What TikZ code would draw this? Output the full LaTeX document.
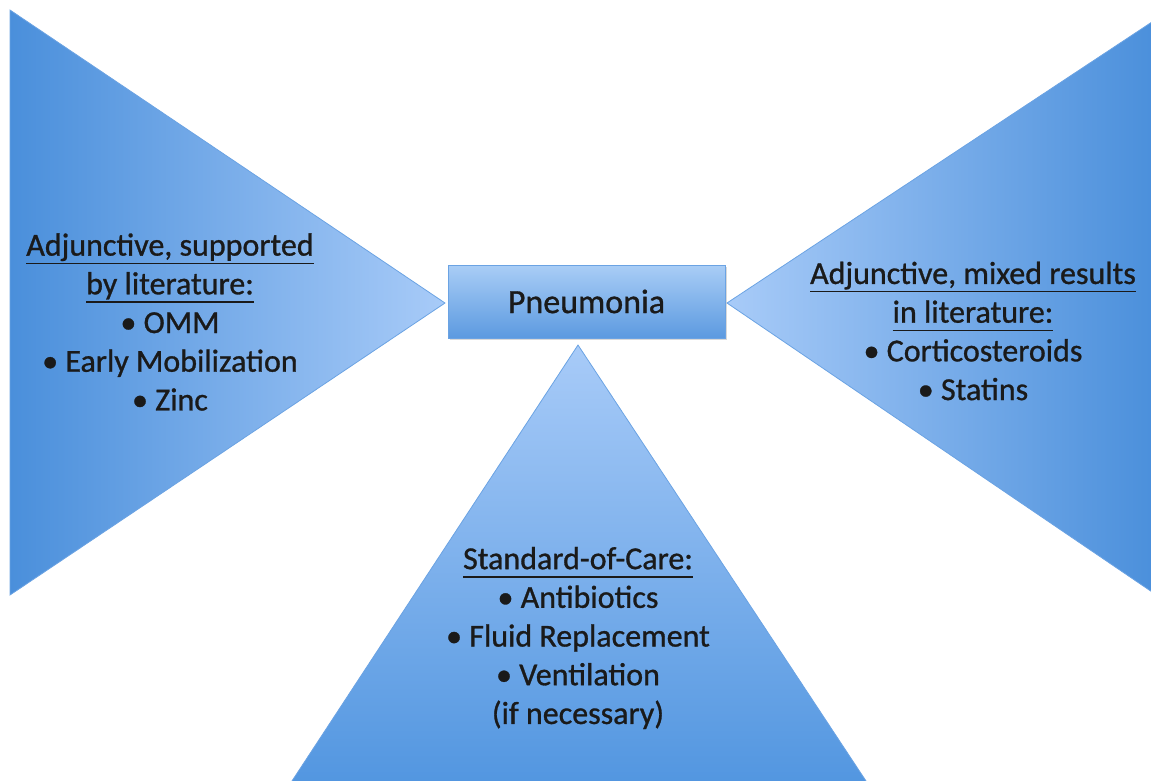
\documentclass[tikz,border=0pt]{standalone}
\usepackage{fontspec}
\setmainfont{Carlito}[FakeBold=0.9]
\usetikzlibrary{shadows}
\newcommand\ulx[1]{\setbox0\hbox{#1}\rlap{\rule[-8.5pt]{\wd0}{1.6pt}}\box0}
\definecolor{bdark}{HTML}{4A8FDB}
\definecolor{blight}{HTML}{A8CBF8}
\definecolor{bbot}{HTML}{5296E0}
\definecolor{boxtop}{HTML}{A9CDF6}
\definecolor{boxbot}{HTML}{5C9AE0}
\definecolor{edgeblue}{HTML}{6BA3E3}
\definecolor{txt}{HTML}{1A1A1A}
\tikzset{
  body/.style={align=center, font=\fontsize{32}{38.7}\selectfont, text=txt, inner sep=0pt},
  tri/.style={draw=edgeblue, line width=0.8pt, line join=miter},
  centerbox/.style={draw=edgeblue, line width=1pt, top color=boxtop, bottom color=boxbot,
    minimum width=277pt, minimum height=73pt, inner sep=0pt,
    drop shadow={shadow xshift=1.5pt, shadow yshift=-2pt, opacity=0.25, fill=black!60},
    font=\fontsize{34}{40}\selectfont, text=txt}
}
\begin{document}
\begin{tikzpicture}[x=1pt,y=-1pt]
\useasboundingbox (0,0) rectangle (1151,780);
% left triangle
\coordinate (l1) at (10,10);
\coordinate (l2) at (445,303);
\coordinate (l3) at (10,595);
\shade[tri, left color=bdark, right color=blight] (l1) -- (l2) -- (l3) -- cycle;
% right triangle
\coordinate (r1) at (1158,18);
\coordinate (r2) at (727,303);
\coordinate (r3) at (1158,596);
\shade[tri, left color=blight, right color=bdark] (r1) -- (r2) -- (r3) -- cycle;
% bottom triangle
\coordinate (b1) at (578,345);
\coordinate (b2) at (290,784);
\coordinate (b3) at (868,784);
\shade[tri, top color=blight, bottom color=bbot] (b1) -- (b2) -- (b3) -- cycle;
% center box
\node[centerbox] (pn) at (586.5,301.5) {Pneumonia};
% texts
\node[body] (lt) at (170,322) {\ulx{Adjunctive, supported}\\ \ulx{by literature:}\\ \textbullet\ OMM\\ \textbullet\ Early Mobilization\\ \textbullet\ Zinc};
\node[body] (rt) at (973,331) {\ulx{Adjunctive, mixed results}\\ \ulx{in literature:}\\ \textbullet\ Corticosteroids\\ \textbullet\ Statins};
\node[body] (bt) at (578,638) {\ulx{Standard-of-Care:}\\ \textbullet\ Antibiotics\\ \textbullet\ Fluid Replacement\\ \textbullet\ Ventilation\\ (if necessary)};
\end{tikzpicture}
\end{document}
